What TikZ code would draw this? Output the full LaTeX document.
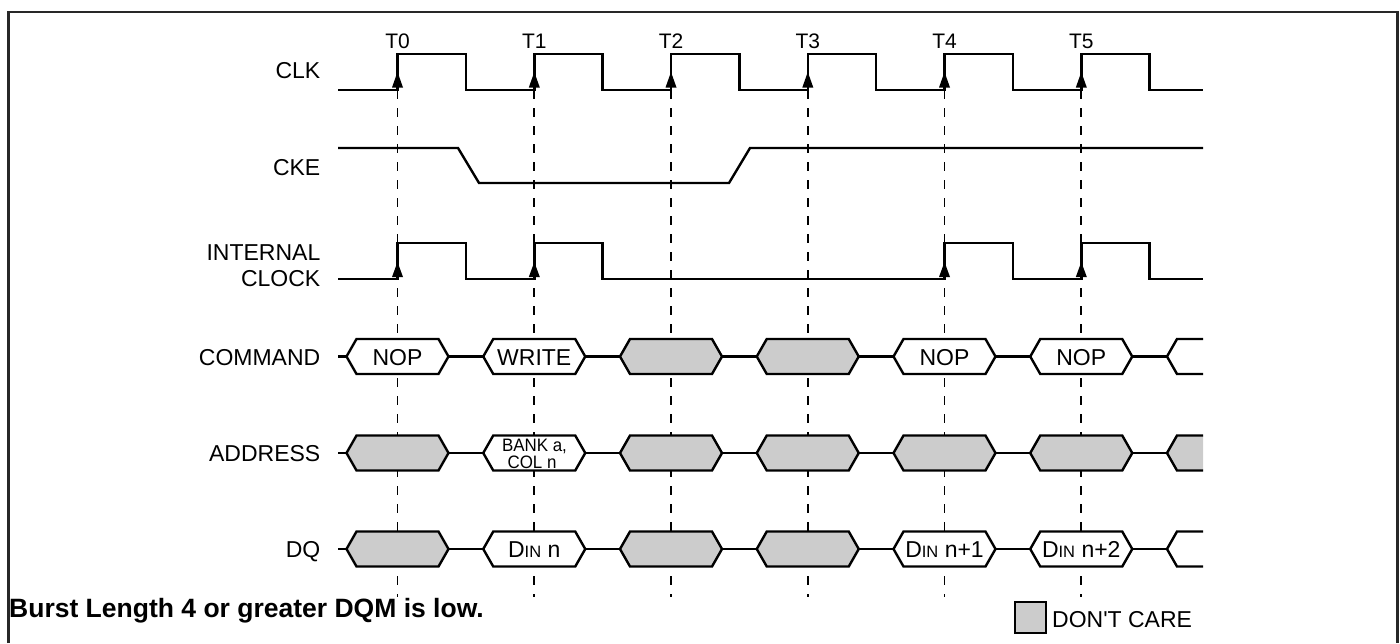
\documentclass[tikz,border=0pt]{standalone}
\usepackage{fontspec}
\setmainfont{Liberation Sans}
\newfontfamily\sansplain{Liberation Sans}
\usepackage{graphicx}
\definecolor{dcgray}{RGB}{204,204,204}
\definecolor{framegray}{RGB}{40,40,40}
\newcommand\bushex[3]{\filldraw[sig, fill=#3] (#1-51,#2) -- (#1-41,#2-17.5) -- (#1+41,#2-17.5) -- (#1+51,#2) -- (#1+41,#2+17.5) -- (#1-41,#2+17.5) -- cycle;}
\newcommand\buspart[2]{\filldraw[sig, fill=#2] (1203,#1-17.5) -- (1177,#1-17.5) -- (1167,#1) -- (1177,#1+17.5) -- (1203,#1+17.5);}
\newcommand\din{D{\fontsize{16.5}{18}\selectfont IN}}
\begin{document}
\begin{tikzpicture}[x=1pt,y=-1pt,
  sig/.style={line width=2.4pt, line join=miter},
  guide/.style={line width=1.7pt, dash pattern=on 9pt off 9pt},
  lbl/.style={anchor=base east, inner sep=0pt, font=\fontsize{23}{26}\selectfont},
  tlbl/.style={anchor=base, inner sep=0pt, font=\fontsize{21}{24}\selectfont},
  bustext/.style={anchor=base, inner sep=0pt, font=\fontsize{23}{26}\selectfont},
  smalltext/.style={anchor=base, inner sep=0pt, font=\fontsize{18}{20}\selectfont}]
\useasboundingbox (0,0) rectangle (1400,643);
% frame
\draw[framegray, line width=2.7pt] (8.7,643) -- (8.7,12) -- (1397.3,12) -- (1397.3,643);
% guide lines
\foreach \t in {397.5,534.25,671,807.75,944.5,1081.25}
  \draw[guide] (\t,90) -- (\t,597);
% T labels
\foreach \t/\n in {397.5/0,534.25/1,671/2,807.75/3,944.5/4,1081.25/5}
  \node[tlbl] (T\n) at (\t,48) {T\n};
% signal labels
\node[lbl] (lclk) at (320.5,78) {CLK};
\node[lbl] (lcke) at (320.5,175) {CKE};
\node[lbl] (lint1) at (320.5,260) {INTERNAL};
\node[lbl] (lint2) at (320.5,286) {CLOCK};
\node[lbl] (lcmd) at (320.5,365) {COMMAND};
\node[lbl] (ladr) at (320.5,461) {ADDRESS};
\node[lbl] (ldq) at (320.5,557) {DQ};
% CLK
\draw[sig] (338,90) -- (397.5,90) -- (397.5,54) -- (465.8,54) -- (465.8,90) -- (534.3,90) -- (534.3,54) -- (602.6,54) -- (602.6,90) -- (671,90) -- (671,54) -- (739.3,54) -- (739.3,90) -- (807.8,90) -- (807.8,54) -- (876,54) -- (876,90) -- (944.5,90) -- (944.5,54) -- (1012.8,54) -- (1012.8,90) -- (1081.3,90) -- (1081.3,54) -- (1149.5,54) -- (1149.5,90) -- (1203,90);
\foreach \t in {397.5,534.3,671,807.8,944.5,1081.3}
  \fill (\t,72) -- (\t+5.5,87.5) -- (\t-5.5,87.5) -- cycle;
% CKE
\draw[sig] (338,148) -- (458,148) -- (479,183) -- (729,183) -- (750,148) -- (1203,148);
% INTERNAL CLOCK
\draw[sig] (338,279) -- (397.5,279) -- (397.5,243) -- (465.8,243) -- (465.8,279) -- (534.3,279) -- (534.3,243) -- (602.6,243) -- (602.6,279) -- (944.5,279) -- (944.5,243) -- (1012.8,243) -- (1012.8,279) -- (1081.3,279) -- (1081.3,243) -- (1149.5,243) -- (1149.5,279) -- (1203,279);
\foreach \t in {397.5,534.3,944.5,1081.3}
  \fill (\t,262) -- (\t+5.5,277) -- (\t-5.5,277) -- cycle;
% COMMAND
\draw[sig] (338,356.5) -- (1167,356.5);
\bushex{397.5}{356.5}{white}
\bushex{534.25}{356.5}{white}
\bushex{671}{356.5}{dcgray}
\bushex{807.75}{356.5}{dcgray}
\bushex{944.5}{356.5}{white}
\bushex{1081.25}{356.5}{white}
\buspart{356.5}{white}
\node[bustext] (c0) at (397.5,365) {NOP};
\node[bustext] (c1) at (534.25,365) {WRITE};
\node[bustext] (c4) at (944.5,365) {NOP};
\node[bustext] (c5) at (1081.25,365) {NOP};
% ADDRESS
\draw[sig] (338,453) -- (1167,453);
\bushex{397.5}{453}{dcgray}
\bushex{534.25}{453}{white}
\bushex{671}{453}{dcgray}
\bushex{807.75}{453}{dcgray}
\bushex{944.5}{453}{dcgray}
\bushex{1081.25}{453}{dcgray}
\buspart{453}{dcgray}
\node[smalltext] (a1a) at (534.5,451) {\scalebox{0.94}[1]{BANK a,}};
\node[smalltext] (a1b) at (532,468.5) {\scalebox{0.94}[1]{COL n}};
% DQ
\draw[sig] (338,549) -- (1167,549);
\bushex{397.5}{549}{dcgray}
\bushex{534.25}{549}{white}
\bushex{671}{549}{dcgray}
\bushex{807.75}{549}{dcgray}
\bushex{944.5}{549}{white}
\bushex{1081.25}{549}{white}
\buspart{549}{white}
\node[bustext] (d1) at (534.25,557) {\din\ n};
\node[bustext] (d4) at (944.5,557) {\din\ n+1};
\node[bustext] (d5) at (1081.25,557) {\din\ n+2};
% note and legend
\node[anchor=base west, inner sep=0pt, font=\bfseries\fontsize{26.5}{30}\selectfont] (note) at (9,617) {Burst Length 4 or greater DQM is low.};
\filldraw[fill=dcgray, line width=2.2pt] (1015,602) rectangle (1046,633);
\node[anchor=base west, inner sep=0pt, font=\sansplain\fontsize{23}{26}\selectfont] (dc) at (1052,627) {DON'T CARE};
\end{tikzpicture}
\end{document}
